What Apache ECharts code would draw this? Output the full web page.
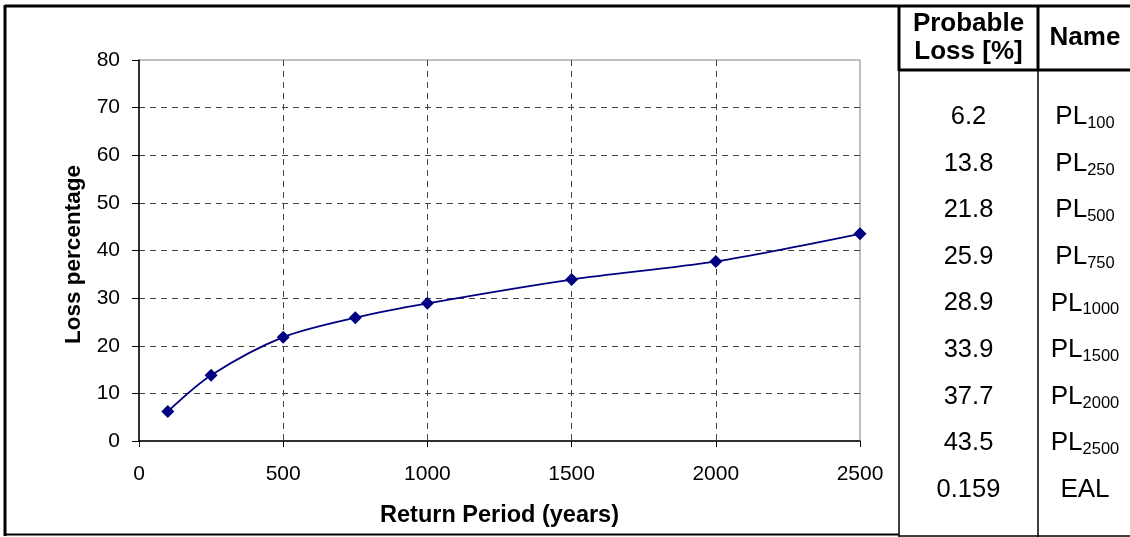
<!DOCTYPE html>
<html>
<head>
<meta charset="utf-8">
<script src="https://cdn.jsdelivr.net/npm/echarts@6/dist/echarts.min.js"></script>
<style>
html,body{margin:0;padding:0;background:#fff;}
#chart{width:1130px;height:537px;}
</style>
</head>
<body>
<div id="chart"></div>
<script>
// ---- data ----
const returnPeriods = [100, 250, 500, 750, 1000, 1500, 2000, 2500];
const lossValues = [6.2, 13.8, 21.8, 25.9, 28.9, 33.9, 37.7, 43.5];
const tableValues = ['6.2', '13.8', '21.8', '25.9', '28.9', '33.9', '37.7', '43.5', '0.159'];
const tableNames = [['PL', '100'], ['PL', '250'], ['PL', '500'], ['PL', '750'], ['PL', '1000'], ['PL', '1500'], ['PL', '2000'], ['PL', '2500'], ['EAL', '']];
const headerValue = 'Probable\nLoss [%]';
const headerName = 'Name';

const FONT = '"Liberation Sans", Arial, sans-serif';
const chart = echarts.init(document.getElementById('chart'), null, {renderer: 'canvas'});

// table layout
const colLeft = 899, colSep = 1038, colRight = 1130;
const rowTop = 71, rowH = 46.6;
const graphics = [];
const black = '#000';
graphics.push({type: 'line', shape: {x1: 5, y1: 6, x2: 1130, y2: 6}, style: {stroke: black, lineWidth: 3}});
graphics.push({type: 'line', shape: {x1: 5, y1: 5, x2: 5, y2: 536}, style: {stroke: black, lineWidth: 3}});
graphics.push({type: 'line', shape: {x1: 4, y1: 534.5, x2: colLeft, y2: 534.5}, style: {stroke: black, lineWidth: 2}});
graphics.push({type: 'line', shape: {x1: colLeft, y1: 536, x2: 1130, y2: 536}, style: {stroke: black, lineWidth: 1.5}});
graphics.push({type: 'line', shape: {x1: colLeft, y1: 5, x2: colLeft, y2: rowTop}, style: {stroke: black, lineWidth: 3}});
graphics.push({type: 'line', shape: {x1: colLeft, y1: rowTop, x2: colLeft, y2: 537}, style: {stroke: black, lineWidth: 1.5}});
graphics.push({type: 'line', shape: {x1: colSep, y1: 5, x2: colSep, y2: rowTop}, style: {stroke: black, lineWidth: 3}});
graphics.push({type: 'line', shape: {x1: colSep, y1: rowTop, x2: colSep, y2: 537}, style: {stroke: black, lineWidth: 1.5}});
graphics.push({type: 'line', shape: {x1: colLeft, y1: rowTop - 1, x2: 1130, y2: rowTop - 1}, style: {stroke: black, lineWidth: 3}});
// header
graphics.push({type: 'text', x: (colLeft + colSep) / 2, y: 38, style: {text: headerValue, font: 'bold 26px ' + FONT, fill: '#000', align: 'center', verticalAlign: 'middle', lineHeight: 28}});
graphics.push({type: 'text', x: (colSep + colRight) / 2 + 1, y: 38, style: {text: headerName, font: 'bold 26px ' + FONT, fill: '#000', align: 'center', verticalAlign: 'middle'}});
// rows
tableValues.forEach(function (v, i) {
  const cy = 117 + i * rowH;
  graphics.push({type: 'text', x: (colLeft + colSep) / 2, y: cy, style: {text: v, font: '25.5px ' + FONT, fill: '#000', align: 'center', verticalAlign: 'middle'}});
  const nm = tableNames[i];
  const txt = nm[1] ? '{m|' + nm[0] + '}{s|' + nm[1] + '}' : '{m|' + nm[0] + '}';
  graphics.push({type: 'text', x: (colSep + colRight) / 2 + 1, y: cy, style: {
    text: txt, align: 'center', verticalAlign: 'middle',
    rich: {
      m: {fontFamily: FONT, fontSize: 26, lineHeight: 28, verticalAlign: 'middle', fill: '#000'},
      s: {fontFamily: FONT, fontSize: 16.5, lineHeight: 16, verticalAlign: 'bottom', fill: '#000', padding: [0, 0, -1, 0]}
    }
  }});
});

const option = {
  animation: false,
  backgroundColor: '#fff',
  grid: {left: 139, right: 1130 - 860, top: 60, bottom: 537 - 441, show: true, borderColor: '#808080', borderWidth: 1, backgroundColor: 'transparent'},
  xAxis: {
    type: 'value', min: 0, max: 2500, interval: 500,
    name: 'Return Period (years)', nameLocation: 'middle', nameGap: 63,
    nameTextStyle: {fontFamily: FONT, fontSize: 23.5, fontWeight: 'bold', color: '#000'},
    axisLine: {show: true, onZero: false, lineStyle: {color: '#000', width: 1.5}},
    axisTick: {show: true, length: 6, lineStyle: {color: '#000'}},
    axisLabel: {fontFamily: FONT, fontSize: 21, color: '#000', margin: 23, formatter: function (v) { return String(v); }},
    splitLine: {show: true, showMinLine: false, showMaxLine: false, lineStyle: {color: '#444', type: [6, 5], width: 1}}
  },
  yAxis: {
    type: 'value', min: 0, max: 80, interval: 10,
    name: 'Loss percentage', nameLocation: 'middle', nameGap: 53, nameRotate: 90,
    nameTextStyle: {fontFamily: FONT, fontSize: 22.5, fontWeight: 'bold', color: '#000', padding: [0, 8, 0, 0]},
    axisLine: {show: true, onZero: false, lineStyle: {color: '#000', width: 1.5}},
    axisTick: {show: true, length: 7, lineStyle: {color: '#000'}},
    axisLabel: {fontFamily: FONT, fontSize: 21, color: '#000', margin: 19},
    splitLine: {show: true, showMinLine: false, showMaxLine: false, lineStyle: {color: '#444', type: [6, 5], width: 1}}
  },
  series: [{
    type: 'line',
    data: returnPeriods.map(function (x, i) { return [x, lossValues[i]]; }),
    smooth: 0.3,
    symbol: 'diamond', symbolSize: 13,
    lineStyle: {color: '#000080', width: 1.8},
    itemStyle: {color: '#000080'},
    z: 5
  }],
  graphic: graphics
};
chart.setOption(option);
</script>
</body>
</html>
